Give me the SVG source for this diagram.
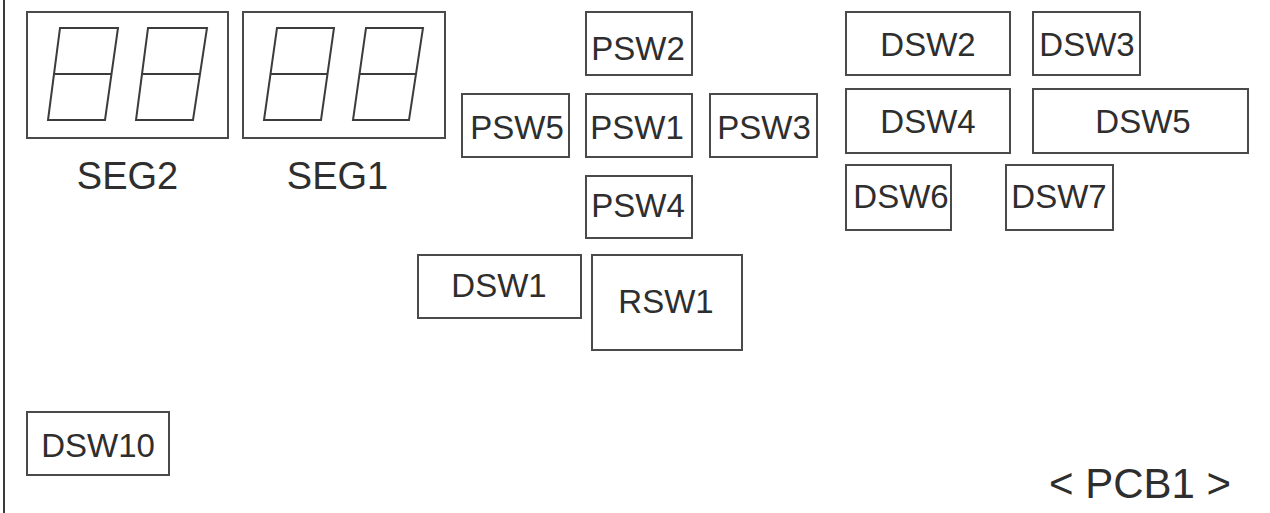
<svg xmlns="http://www.w3.org/2000/svg" width="1270" height="513" viewBox="0 0 1270 513">
<style>
.box{fill:#fff;stroke:#4a4a4a;stroke-width:2}
.seg{fill:none;stroke:#3c3c3c;stroke-width:2;stroke-linejoin:miter}
.lbl{font-family:"Liberation Sans",Arial,sans-serif;font-size:33px;fill:#2e2e2e;text-anchor:middle}
.big{font-family:"Liberation Sans",Arial,sans-serif;font-size:38px;fill:#2e2e2e;text-anchor:middle}
</style>
<rect width="1270" height="513" fill="#fff"/>
<line x1="4" y1="0" x2="4" y2="513" stroke="#3a3a3a" stroke-width="2"/>
<g id="SEG2">
<rect class="box" x="27" y="12" width="201" height="126"/>
<path class="seg" d="M60,28 L118,28 L105,120 L48,120 Z M54,74 L111,74"/>
<path class="seg" d="M148,28 L207,28 L193,120 L136,120 Z M142,74 L200,74"/>
<text class="big" x="127.5" y="189">SEG2</text>
</g>
<g id="SEG1">
<rect class="box" x="243" y="12" width="202" height="126"/>
<path class="seg" d="M277,28 L334,28 L321,120 L264,120 Z M270,74 L327,74"/>
<path class="seg" d="M366,28 L423,28 L409,120 L353,120 Z M359,74 L416,74"/>
<text class="big" x="337.5" y="189">SEG1</text>
</g>
<g id="PSW2"><rect class="box" x="586" y="12" width="106" height="63"/><text class="lbl" x="638" y="60">PSW2</text></g>
<g id="PSW5"><rect class="box" x="462" y="94" width="107" height="63"/><text class="lbl" x="517" y="139">PSW5</text></g>
<g id="PSW1"><rect class="box" x="586" y="94" width="106" height="63"/><text class="lbl" x="637" y="139">PSW1</text></g>
<g id="PSW3"><rect class="box" x="710" y="94" width="107" height="63"/><text class="lbl" x="764" y="139">PSW3</text></g>
<g id="PSW4"><rect class="box" x="586" y="176" width="106" height="62"/><text class="lbl" x="638" y="217">PSW4</text></g>
<g id="DSW1"><rect class="box" x="418" y="255" width="163" height="63"/><text class="lbl" x="499" y="297">DSW1</text></g>
<g id="RSW1"><rect class="box" x="592" y="255" width="150" height="95"/><text class="lbl" x="666" y="313">RSW1</text></g>
<g id="DSW2"><rect class="box" x="846" y="12" width="164" height="63"/><text class="lbl" x="928" y="56">DSW2</text></g>
<g id="DSW3"><rect class="box" x="1033" y="12" width="107" height="63"/><text class="lbl" x="1087" y="56">DSW3</text></g>
<g id="DSW4"><rect class="box" x="846" y="89" width="164" height="64"/><text class="lbl" x="928" y="133">DSW4</text></g>
<g id="DSW5"><rect class="box" x="1033" y="89" width="215" height="64"/><text class="lbl" x="1143" y="133">DSW5</text></g>
<g id="DSW6"><rect class="box" x="846" y="165" width="105" height="65"/><text class="lbl" x="901" y="208">DSW6</text></g>
<g id="DSW7"><rect class="box" x="1006" y="165" width="107" height="65"/><text class="lbl" x="1059" y="208">DSW7</text></g>
<g id="DSW10"><rect class="box" x="27" y="412" width="142" height="63"/><text class="lbl" x="98" y="457">DSW10</text></g>
<g id="connectors"></g>
<text class="big" x="1140" y="498" style="font-size:42px">&lt; PCB1 &gt;</text>
</svg>
